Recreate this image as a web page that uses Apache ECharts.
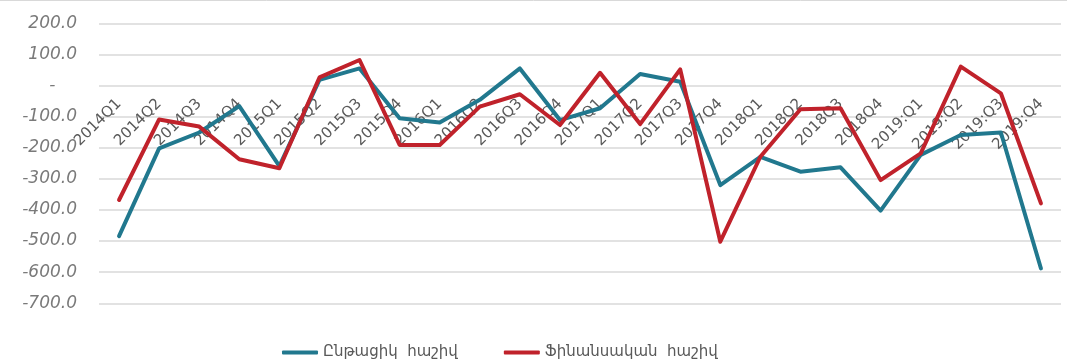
<!DOCTYPE html>
<html>
<head>
<meta charset="utf-8">
<script src="https://cdn.jsdelivr.net/npm/echarts@6/dist/echarts.min.js"></script>
<style>
html,body{margin:0;padding:0;background:#fff;}
#chart{width:1067px;height:362px;}
</style>
</head>
<body>
<div id="chart"></div>
<script>
var categories = ['2014Q1','2014Q2','2014Q3','2014Q4','2015Q1','2015Q2','2015Q3','2015Q4',
  '2016Q1','2016Q2','2016Q3','2016Q4','2017Q1','2017Q2','2017Q3','2017Q4',
  '2018Q1','2018Q2','2018Q3','2018Q4','2019:Q1','2019:Q2','2019:Q3','2019:Q4'];
var currentAccount = [-484, -202, -151, -66, -259, 18, 55, -105, -119, -46, 55, -111,
  -73, 37, 12, -320, -229, -277, -263, -402, -223, -159, -151, -588];
var financialAccount = [-368, -109, -132, -237, -266, 26, 82, -191, -191, -68, -28, -127,
  41, -124, 52, -502, -229, -76, -73, -304, -218, 61, -25, -379];
var seriesNames = ['Ընթացիկ  հաշիվ', 'Ֆինանսական  հաշիվ'];
var yMin = -700, yMax = 200, yStep = 100;

var W = 1067, H = 362;
var gridTop = 23.3, gridBottom = 58.7;
var gridH = H - gridTop - gridBottom;
// move the category axis up so its labels hang from the zero line, as in the source chart
var xAxisOffset = -gridH * (0 - yMin) / (yMax - yMin);

var chart = echarts.init(document.getElementById('chart'), null, {renderer:'canvas'});
chart.setOption({
  animation: false,
  backgroundColor: '#ffffff',
  color: ['#21788E', '#C0222B'],
  graphic: [
    {type: 'line', shape: {x1: 0, y1: 0.5, x2: W, y2: 0.5}, style: {stroke: '#d9d9d9', lineWidth: 1}}
  ],
  grid: {left: 99, right: 6, top: gridTop, bottom: gridBottom, containLabel: false, outerBoundsMode: 'none'},
  legend: {
    left: 277, top: 340,
    itemWidth: 36, itemHeight: 4, itemGap: 46,
    icon: 'roundRect',
    textStyle: {fontFamily: 'DejaVu Sans', fontSize: 15, color: '#595959'},
    data: seriesNames
  },
  xAxis: {
    type: 'category',
    data: categories,
    boundaryGap: true,
    position: 'bottom',
    offset: xAxisOffset,
    axisLine: {show: false, onZero: false},
    axisTick: {show: false},
    splitLine: {show: false},
    axisLabel: {
      interval: 0, rotate: 45, margin: 16,
      fontFamily: 'DejaVu Sans', fontSize: 15, color: '#595959'
    }
  },
  yAxis: {
    type: 'value',
    min: yMin, max: yMax, interval: yStep,
    axisLine: {show: false},
    axisTick: {show: false},
    splitLine: {lineStyle: {color: '#d9d9d9', width: 1.5}},
    axisLabel: {
      margin: 22,
      fontFamily: 'DejaVu Sans', fontStyle: 'italic', fontSize: 17, color: '#7a7a7a',
      formatter: function (v) { return v === 0 ? '-    ' : v.toFixed(1); }
    }
  },
  series: [
    {name: seriesNames[0], type: 'line', data: currentAccount, symbol: 'none',
     lineStyle: {width: 4, cap: 'round', join: 'round'}, z: 2},
    {name: seriesNames[1], type: 'line', data: financialAccount, symbol: 'none',
     lineStyle: {width: 4, cap: 'round', join: 'round'}, z: 3}
  ]
});
</script>
</body>
</html>
